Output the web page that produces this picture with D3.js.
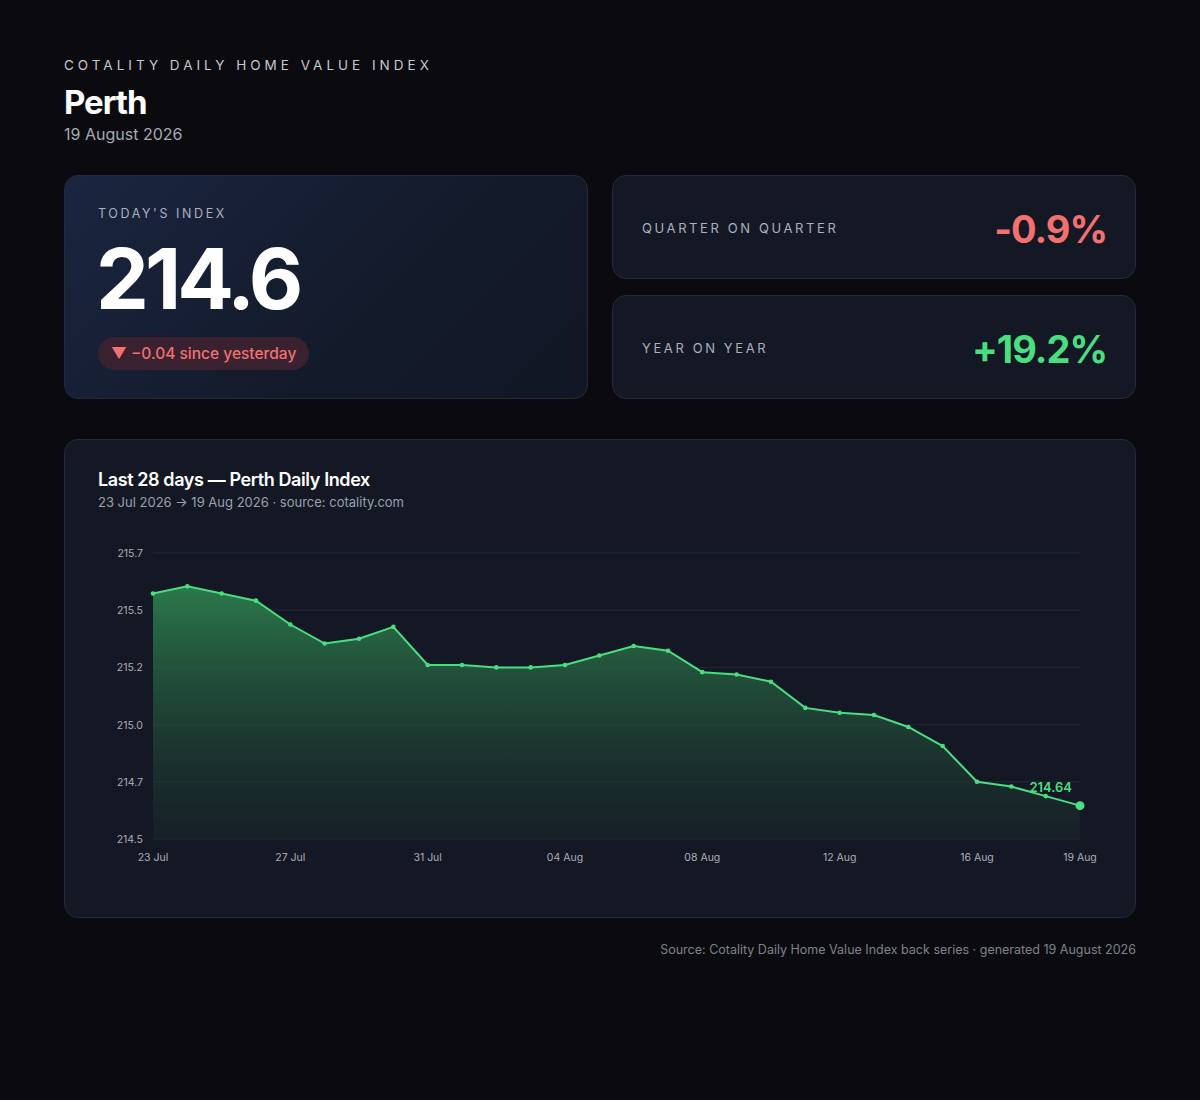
<!DOCTYPE html>
<html><head><meta charset="utf-8">
<script src="https://cdn.jsdelivr.net/npm/d3@7"></script>
<style>
body{margin:0;background:#0b0b0f;font-family:Inter,"Noto Sans",sans-serif;color:#fff;width:1200px;height:1100px;position:relative}
.abs{position:absolute}
.card{position:absolute;background:#141824;border:1px solid #252a37;border-radius:14px;box-sizing:border-box}
.lab{letter-spacing:2.6px;font-size:13px;color:#a9b0bf}
</style></head><body>
<div class="abs lab" style="left:64px;top:57px;letter-spacing:4px;font-size:13.5px;color:#c4c7ce">COTALITY DAILY HOME VALUE INDEX</div>
<div class="abs" style="left:64px;top:82px;font-size:33px;font-weight:700;letter-spacing:-1px">Perth</div>
<div class="abs" style="left:64px;top:124px;font-size:16px;color:#a6a9b2">19 August 2026</div>

<div class="card" style="left:64px;top:175px;width:524px;height:224px;background:linear-gradient(135deg,#1a2540,#131a2a 60%,#121725)">
  <div class="abs lab" style="left:33px;top:30px;font-size:12.5px">TODAY'S INDEX</div>
  <div class="abs" style="left:31px;top:52px;font-size:84px;font-weight:700;letter-spacing:-4px">214.6</div>
  <div class="abs" style="left:33px;top:161px;height:33px;line-height:33px;padding:0 13px;border-radius:17px;background:#3a2130;color:#f2706f;font-size:15.5px;font-weight:500">▼ −0.04 since yesterday</div>
</div>
<div class="card" style="left:612px;top:175px;width:524px;height:104px">
  <div class="abs lab" style="left:29px;top:44px">QUARTER ON QUARTER</div>
  <div class="abs" style="right:28px;top:30px;font-size:38px;font-weight:700;color:#f2706f;letter-spacing:-1px">-0.9%</div>
</div>
<div class="card" style="left:612px;top:295px;width:524px;height:104px">
  <div class="abs lab" style="left:29px;top:44px">YEAR ON YEAR</div>
  <div class="abs" style="right:28px;top:30px;font-size:38px;font-weight:700;color:#4ade80;letter-spacing:-1px">+19.2%</div>
</div>

<div class="card" style="left:64px;top:439px;width:1072px;height:479px">
  <div class="abs" style="left:33px;top:29px;font-size:18px;font-weight:600;letter-spacing:-0.4px">Last 28 days — Perth Daily Index</div>
  <div class="abs" style="left:33px;top:54px;font-size:13px;color:#9aa0ac">23 Jul 2026 → 19 Aug 2026 · source: cotality.com</div>
</div>
<svg id="chart" class="abs" style="left:0;top:0" width="1200" height="1100"></svg>
<div class="abs" style="right:64px;top:942px;font-size:12.5px;color:#7d828d">Source: Cotality Daily Home Value Index back series · generated 19 August 2026</div>

<script>
const startDate = "2026-07-23";
const values = [215.53,215.56,215.53,215.50,215.40,215.32,215.34,215.39,215.23,215.23,215.22,215.22,215.23,215.27,215.31,215.29,215.20,215.19,215.16,215.05,215.03,215.02,214.97,214.89,214.74,214.72,214.68,214.64];
const tickDates = ["2026-07-23","2026-07-27","2026-07-31","2026-08-04","2026-08-08","2026-08-12","2026-08-16","2026-08-19"];
const yTicks = [214.5,214.74,214.98,215.22,215.46,215.7];

const parse = d3.utcParse("%Y-%m-%d");
const d0 = parse(startDate);
const data = values.map((v,i)=>({date:d3.utcDay.offset(d0,i),v}));
const svg = d3.select("#chart");
const x = d3.scaleUtc().domain([d0,data[data.length-1].date]).range([153,1080]);
const y = d3.scaleLinear().domain([214.5,215.7]).range([839,553]);

const defs = svg.append("defs");
const g = defs.append("linearGradient").attr("id","ag").attr("x1",0).attr("y1",0).attr("x2",0).attr("y2",1);
g.append("stop").attr("offset","0%").attr("stop-color","#2f8a52").attr("stop-opacity",0.85);
g.append("stop").attr("offset","100%").attr("stop-color","#1a2a2a").attr("stop-opacity",0.4);

svg.append("g").selectAll("line").data(yTicks).join("line")
 .attr("x1",153).attr("x2",1080).attr("y1",d=>y(d)).attr("y2",d=>y(d))
 .attr("stroke","#232838").attr("stroke-width",1);
svg.append("g").selectAll("text").data(yTicks).join("text")
 .attr("x",143).attr("y",d=>y(d)+4).attr("text-anchor","end")
 .attr("fill","#a9aeb8").attr("font-size",10.5).text(d=>d3.format(".1f")(d));

svg.append("path").datum(data).attr("fill","url(#ag)")
 .attr("d",d3.area().x(d=>x(d.date)).y0(839).y1(d=>y(d.v)));
svg.append("path").datum(data).attr("fill","none").attr("stroke","#4ade80").attr("stroke-width",2)
 .attr("d",d3.line().x(d=>x(d.date)).y(d=>y(d.v)));
svg.append("g").selectAll("circle").data(data).join("circle")
 .attr("cx",d=>x(d.date)).attr("cy",d=>y(d.v)).attr("r",(d,i)=>i===data.length-1?4.5:2.3)
 .attr("fill","#4ade80");
const last = data[data.length-1];
svg.append("text").attr("x",x(last.date)-8).attr("y",y(last.v)-14).attr("text-anchor","end")
 .attr("fill","#4ade80").attr("font-size",13).attr("font-weight",600).text(last.v.toFixed(2));

const fmt = d3.utcFormat("%d %b");
svg.append("g").selectAll("text").data(tickDates.map(parse)).join("text")
 .attr("x",d=>x(d)).attr("y",861).attr("text-anchor","middle")
 .attr("fill","#a9aeb8").attr("font-size",10.5).text(d=>fmt(d));
</script>
</body></html>
